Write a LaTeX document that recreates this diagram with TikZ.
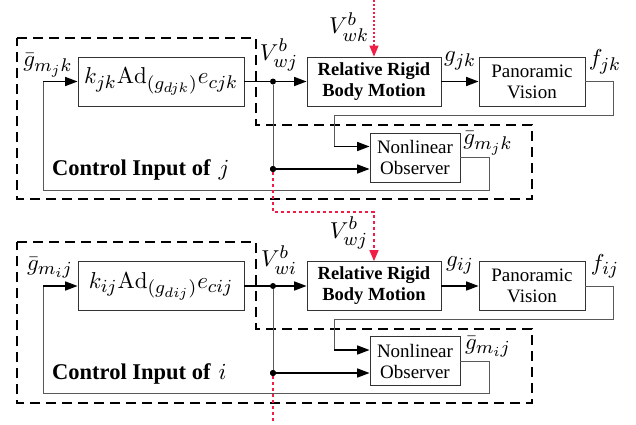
\RequirePackage{fix-cm}
\documentclass[tikz,border=0pt]{standalone}
\usepackage[no-math]{fontspec}
\usepackage{graphicx}
\setmainfont{Liberation Serif}
\DeclareMathSizes{10}{10}{8}{6}
\usetikzlibrary{arrows.meta}
\definecolor{myred}{RGB}{240,30,70}
\newcommand{\mymath}[1]{\scalebox{2.3}{\fontsize{10}{12}\selectfont$#1$}}
\tikzset{
  blk/.style={draw=black!80, line width=0.8pt, inner sep=0pt, align=center},
  txt/.style={font=\fontsize{19}{21}\selectfont},
  btxt/.style={font=\fontsize{18.5}{21}\selectfont\bfseries},
  mth/.style={inner sep=0pt},
  arr/.style={line width=1.6pt, -{Triangle[length=12.5pt,width=9pt]}},
  thinln/.style={line width=0.8pt, draw=black!65},
  bound/.style={line width=1.8pt, dash pattern=on 10pt off 6pt},
  redln/.style={line width=1.3pt, draw=myred, dash pattern=on 3pt off 3pt},
  redarr/.style={redln, -{Triangle[length=11pt,width=9pt]}},
  dotn/.style={circle, fill=black, inner sep=0pt, minimum size=6pt},
  cilab/.style={anchor=west, font=\fontsize{22.5}{26}\selectfont\bfseries, inner sep=0pt},
}
\begin{document}
\begin{tikzpicture}[x=1pt,y=-1pt]
\useasboundingbox (0,0) rectangle (636,424);

% ---------- upper block (j) ----------
\draw[bound] (17,38) -- (256,38) -- (256,125) -- (532,125) -- (532,199) -- (17,199) -- cycle;
\node[blk, minimum width=166pt, minimum height=49pt] (ctrlj) at (161,81.5) {\mymath{k_{jk}\mathrm{Ad}_{(g_{djk})}e_{cjk}}};
\node[blk, minimum width=134pt, minimum height=49pt, btxt] (rrbmj) at (374,81.5) {Relative Rigid\\Body Motion};
\node[blk, minimum width=106pt, minimum height=49pt, txt] (panj) at (532,81.5) {Panoramic\\Vision};
\node[blk, minimum width=90pt, minimum height=49pt, txt] (obsj) at (415,157.5) {Nonlinear\\Observer};
\node[cilab] (cij) at (52,170) {Control Input of\hspace{8pt}\mymath{j}};

\coordinate (inj) at (43,81.5);
\coordinate (fbj1) at (489,157.5);
\coordinate (fbj2) at (489,190);
\coordinate (fbj3) at (43,190);
\coordinate (fj1) at (613,81.5);
\coordinate (fj2) at (613,115);
\coordinate (fj3) at (334,115);
\coordinate (fj4) at (334,146.5);
\coordinate (topk) at (374,0);
\coordinate (rj1) at (273,212);

\draw[thinln] (obsj.east) -- (fbj1) -- (fbj2) -- (fbj3) -- (inj);
\draw[arr] (inj) -- (ctrlj.west);
\draw[arr] (ctrlj.east) -- (rrbmj.west);
\draw[arr] (rrbmj.east) -- (panj.west);
\draw[thinln] (panj.east) -- (fj1) -- (fj2) -- (fj3) -- (fj4);
\draw[arr] (fj4) -- (obsj.west |- fj4);
\node[dotn] (dj1) at (273,81.5) {};
\node[dotn] (dj2) at (273,169) {};
\draw[thinln] (dj1) -- (dj2);
\draw[arr] (dj2) -- (obsj.west |- dj2);
\draw[line width=1.2pt, draw=myred, dash pattern=on 2pt off 2pt, -{Triangle[length=11pt,width=9pt]}] (topk) -- (rrbmj.north);

\node[mth] (lgj) at (48,65) {\mymath{\bar g_{m_jk}}};
\node[mth] (lvj) at (279,55) {\mymath{V^b_{wj}}};
\node[mth] (lgjk) at (460,61) {\mymath{g_{jk}}};
\node[mth] (lfjk) at (605,62) {\mymath{f_{jk}}};
\node[mth] (logj) at (488,143) {\mymath{\bar g_{m_jk}}};
\node[mth] (lvk) at (349,27) {\mymath{V^b_{wk}}};

% ---------- lower block (i) ----------
\draw[bound] (17,242) -- (256,242) -- (256,329) -- (532,329) -- (532,403) -- (17,403) -- cycle;
\node[blk, minimum width=166pt, minimum height=49pt] (ctrli) at (161,286) {\mymath{k_{ij}\mathrm{Ad}_{(g_{dij})}e_{cij}}};
\node[blk, minimum width=134pt, minimum height=49pt, btxt] (rrbmi) at (374,286) {Relative Rigid\\Body Motion};
\node[blk, minimum width=106pt, minimum height=49pt, txt] (pani) at (532,286) {Panoramic\\Vision};
\node[blk, minimum width=90pt, minimum height=49pt, txt] (obsi) at (415,361) {Nonlinear\\Observer};
\node[cilab] (cii) at (52,374) {Control Input of\hspace{8pt}\mymath{i}};

\coordinate (ini) at (43,286);
\coordinate (fbi1) at (489,361);
\coordinate (fbi2) at (489,393);
\coordinate (fbi3) at (43,393);
\coordinate (fi1) at (613,286);
\coordinate (fi2) at (613,319);
\coordinate (fi3) at (334,319);
\coordinate (fi4) at (334,350);
\coordinate (boti) at (273,424);

\draw[thinln] (obsi.east) -- (fbi1) -- (fbi2) -- (fbi3) -- (ini);
\draw[arr] (ini) -- (ctrli.west);
\draw[arr] (ctrli.east) -- (rrbmi.west);
\draw[arr] (rrbmi.east) -- (pani.west);
\draw[thinln] (pani.east) -- (fi1) -- (fi2) -- (fi3) -- (fi4);
\draw[arr] (fi4) -- (obsi.west |- fi4);
\node[dotn] (di1) at (273,286) {};
\node[dotn] (di2) at (273,373) {};
\draw[thinln] (di1) -- (di2);
\draw[arr] (di2) -- (obsi.west |- di2);

% red links
\draw[redarr] (dj2) -- (rj1) -| (rrbmi.north);
\draw[redln] (di2) -- (boti);
\node[dotn] at (dj2) {};
\node[dotn] at (di2) {};

\node[mth] (lgi) at (50,268) {\mymath{\bar g_{m_ij}}};
\node[mth] (lvi) at (279,260) {\mymath{V^b_{wi}}};
\node[mth] (lgij) at (460,265) {\mymath{g_{ij}}};
\node[mth] (lfij) at (605,266) {\mymath{f_{ij}}};
\node[mth] (logi) at (488,347) {\mymath{\bar g_{m_ij}}};
\node[mth] (lvj2) at (349,233) {\mymath{V^b_{wj}}};
\end{tikzpicture}
\end{document}
